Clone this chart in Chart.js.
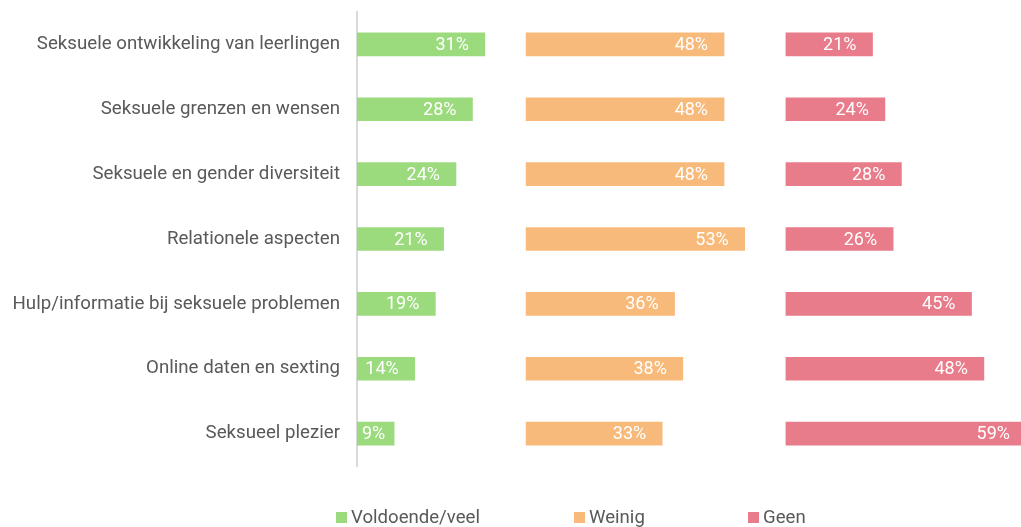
<!DOCTYPE html>
<html>
<head>
<meta charset="utf-8">
<script src="https://cdn.jsdelivr.net/npm/chart.js@4.4.1/dist/chart.umd.min.js"></script>
<style>
  html, body { margin: 0; padding: 0; background: #fff; }
  #wrap { position: relative; width: 1021px; height: 527px; }
  .leg { position: absolute; top: 505px; display: flex; align-items: center;
         font: 18.6px Roboto, Arial, sans-serif; color: #595959; line-height: 24px; }
  .leg i { display: inline-block; width: 11px; height: 11px; margin-right: 4px; }
</style>
</head>
<body>
<div id="wrap">
  <canvas id="grafiek" width="1021" height="527"></canvas>
  <div class="leg" style="left:336px"><i style="background:#9bdb7e"></i>Voldoende/veel</div>
  <div class="leg" style="left:574px"><i style="background:#f8ba7a"></i>Weinig</div>
  <div class="leg" style="left:748px"><i style="background:#e97c8a"></i>Geen</div>
</div>
<script>
"use strict";

// ---- data ----
const onderwerpen = [
  "Seksuele ontwikkeling van leerlingen",
  "Seksuele grenzen en wensen",
  "Seksuele en gender diversiteit",
  "Relationele aspecten",
  "Hulp/informatie bij seksuele problemen",
  "Online daten en sexting",
  "Seksueel plezier"
];
const voldoende = [31, 28, 24, 21, 19, 14, 9];
const weinig    = [48, 48, 48, 53, 36, 38, 33];
const geen      = [21, 24, 28, 26, 45, 48, 59];

// ---- layout: each panel gets its own x-scale, shifted to its start ----
const PANEL_START = [0, 41, 104];   // in % units from the left axis
const SCALE_SPAN = 161;             // % units across the plot width
const kleuren = ["#9bdb7e", "#f8ba7a", "#e97c8a"];
const FONT = "Roboto, Arial, sans-serif";

function panelAs(i) {
  return {
    type: "linear",
    position: "bottom",
    min: -PANEL_START[i],
    max: SCALE_SPAN - PANEL_START[i],
    display: false
  };
}

// labels binnen het einde van de balk
const balkLabels = {
  id: "balkLabels",
  afterDatasetsDraw(chart) {
    const ctx = chart.ctx;
    const area = chart.chartArea;
    ctx.save();
    ctx.beginPath();
    ctx.rect(area.left, area.top, area.right - area.left, area.bottom - area.top);
    ctx.clip();
    ctx.font = "18px " + FONT;
    ctx.fillStyle = "#ffffff";
    ctx.textBaseline = "middle";
    ctx.textAlign = "left";
    chart.data.datasets.forEach((ds, di) => {
      chart.getDatasetMeta(di).data.forEach((bar, i) => {
        const txt = ds.data[i] + "%";
        const w = ctx.measureText(txt).width;
        const end = Math.min(bar.x, area.right + 5);
        let x = end - 16 - w;
        if (x < bar.base + 5) x = bar.base + 5;
        ctx.fillText(txt, x, bar.y + 1);
      });
    });
    ctx.restore();
  }
};

new Chart(document.getElementById("grafiek"), {
  type: "bar",
  data: {
    labels: onderwerpen,
    datasets: [
      { label: "Voldoende/veel", data: voldoende, xAxisID: "x1", backgroundColor: kleuren[0] },
      { label: "Weinig",         data: weinig,    xAxisID: "x2", backgroundColor: kleuren[1] },
      { label: "Geen",           data: geen,      xAxisID: "x3", backgroundColor: kleuren[2] }
    ]
  },
  options: {
    indexAxis: "y",
    responsive: false,
    animation: false,
    datasets: { bar: { grouped: false, barThickness: 23, borderWidth: 0 } },
    layout: { padding: { top: 12, bottom: 61, right: 0, left: 0 } },
    plugins: { legend: { display: false }, tooltip: { enabled: false } },
    scales: {
      x1: panelAs(0),
      x2: panelAs(1),
      x3: panelAs(2),
      y: {
        type: "category",
        position: "left",
        afterFit: s => { s.width = 357; s.paddingTop = 0; s.paddingBottom = 0; },
        grid: { display: false, drawTicks: false },
        border: { display: true, color: "#d9d9d9", width: 2 },
        ticks: { color: "#595959", font: { family: FONT, size: 18.7 }, padding: 17 }
      }
    }
  },
  plugins: [balkLabels]
});
</script>
</body>
</html>
